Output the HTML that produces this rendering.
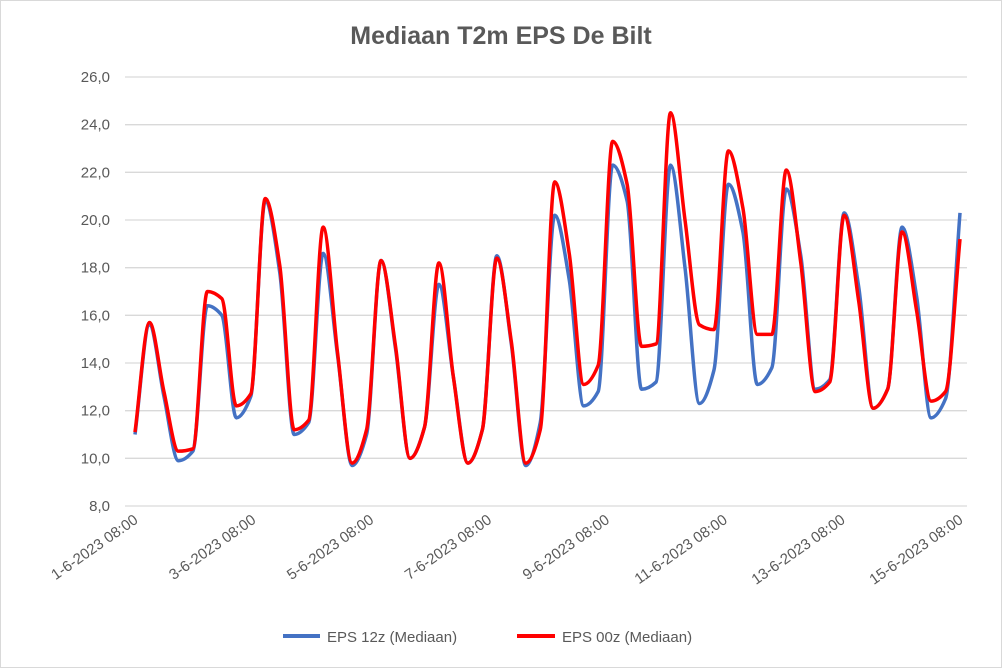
<!DOCTYPE html>
<html><head><meta charset="utf-8"><style>
html,body{margin:0;padding:0;background:#fff;}
svg{display:block;font-family:"Liberation Sans",sans-serif;}
</style></head><body>
<svg id="chart" width="1002" height="668" viewBox="0 0 1002 668">
<rect x="0.5" y="0.5" width="1001" height="667" fill="#fff" stroke="#d9d9d9"/>
<text x="501" y="44" text-anchor="middle" font-size="25" font-weight="bold" fill="#595959">Mediaan T2m EPS De Bilt</text>
<g id="grid"></g><g id="yticks"></g><g id="xticks"></g><g id="series"></g>
<g>
<line x1="283" y1="636" x2="320" y2="636" stroke="#4472c4" stroke-width="4"/>
<text x="327" y="642" font-size="15" fill="#595959">EPS 12z (Mediaan)</text>
<line x1="517" y1="636" x2="555" y2="636" stroke="#ff0000" stroke-width="4"/>
<text x="562" y="642" font-size="15" fill="#595959">EPS 00z (Mediaan)</text>
</g>
</svg>
<script>
const yTicks = [8,10,12,14,16,18,20,22,24,26];
const xLabels = ["1-6-2023 08:00","3-6-2023 08:00","5-6-2023 08:00","7-6-2023 08:00","9-6-2023 08:00","11-6-2023 08:00","13-6-2023 08:00","15-6-2023 08:00"];
const eps12z = [11.0,15.6,12.6,9.9,10.3,16.4,16.0,11.7,12.6,20.8,17.8,11.0,11.5,18.6,14.3,9.7,11.0,18.3,14.6,10.0,11.3,17.3,13.4,9.8,11.2,18.5,14.8,9.7,11.5,20.2,17.5,12.2,12.8,22.3,20.8,12.9,13.2,22.3,18.0,12.3,13.7,21.5,19.5,13.1,13.8,21.3,18.5,12.9,13.3,20.3,17.2,12.1,12.9,19.7,16.8,11.7,12.5,20.3];
const eps00z = [11.1,15.7,12.8,10.3,10.4,17.0,16.7,12.2,12.7,20.9,18.1,11.2,11.6,19.7,14.4,9.8,11.2,18.3,14.7,10.0,11.3,18.2,13.4,9.8,11.2,18.4,14.9,9.8,11.2,21.6,18.6,13.1,13.9,23.3,21.5,14.7,14.8,24.5,20.0,15.6,15.4,22.9,20.5,15.2,15.2,22.1,18.2,12.8,13.2,20.2,16.6,12.1,12.9,19.5,16.2,12.4,12.8,19.2];
const NS="http://www.w3.org/2000/svg";
const X0=135,X1=960,Y0=506,Y1=77,VMIN=8,VMAX=26;
const yS=v=>Y0-(v-VMIN)/(VMAX-VMIN)*(Y0-Y1);
const xS=i=>X0+i*(X1-X0)/(eps12z.length-1);
function mk(t,a,p){const e=document.createElementNS(NS,t);for(const k in a)e.setAttribute(k,a[k]);p.appendChild(e);return e;}
const grid=document.getElementById('grid'),yt=document.getElementById('yticks'),xt=document.getElementById('xticks'),ser=document.getElementById('series');
yTicks.forEach(v=>{
 const l=mk('line',{x1:125,x2:967,y1:yS(v),y2:yS(v),stroke:'#d9d9d9','stroke-width':1.3},grid);
 
 
 const t=mk('text',{x:110,y:yS(v)+5,'text-anchor':'end','font-size':15,fill:'#595959'},yt);
 t.textContent=v.toFixed(1).replace('.',',');
 
 
});
xLabels.forEach((s,k)=>{
 const x=X0+k*(X1-X0)/(xLabels.length-1);
 const t=mk('text',{x:x+4,y:522,'text-anchor':'end','font-size':15,fill:'#595959',transform:`rotate(-35 ${x+4} 522)`},xt);
 t.textContent=s;
 
 
});
function path(vals){
 const p=vals.map((v,i)=>[xS(i),yS(v)]);
 const n=p.length,h=p[1][0]-p[0][0];
 const d=[];for(let i=0;i<n-1;i++)d.push((p[i+1][1]-p[i][1])/h);
 const m=[];
 for(let i=0;i<n;i++){
  if(i==0)m.push(d[0]);else if(i==n-1)m.push(d[n-2]);
  else if(d[i-1]*d[i]<=0)m.push(0);
  else{const a=d[i-1],b=d[i];m.push(2*a*b/(a+b));}
 }
 let s=`M${p[0][0]},${p[0][1]}`;
 for(let i=0;i<n-1;i++){
  s+=` C${p[i][0]+h/3},${p[i][1]+m[i]*h/3} ${p[i+1][0]-h/3},${p[i+1][1]-m[i+1]*h/3} ${p[i+1][0]},${p[i+1][1]}`;
 }
 return s;
}
const pb=mk('path',{d:path(eps12z),fill:'none',stroke:'#4472c4','stroke-width':3.5,'stroke-linejoin':'round'},ser);


const pr=mk('path',{d:path(eps00z),fill:'none',stroke:'#ff0000','stroke-width':3.5,'stroke-linejoin':'round'},ser);


</script>
</body></html>
